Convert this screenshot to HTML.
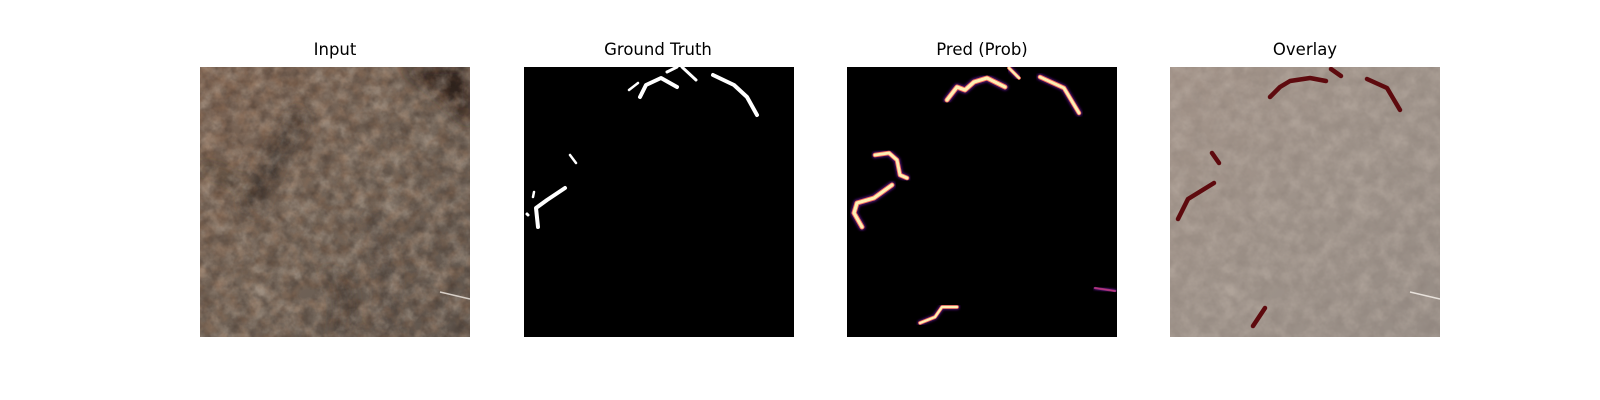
<!DOCTYPE html>
<html><head><meta charset="utf-8">
<style>
html,body{margin:0;padding:0;background:#fff;width:1600px;height:400px;overflow:hidden}
.t{position:absolute;top:40px;width:270px;text-align:center;font-family:"DejaVu Sans","Liberation Sans",sans-serif;font-size:16.5px;color:#000}
svg.p{position:absolute;top:67px;width:270px;height:270px}
</style></head><body>
<div class="t" style="left:200px">Input</div>
<div class="t" style="left:523px">Ground Truth</div>
<div class="t" style="left:847px">Pred (Prob)</div>
<div class="t" style="left:1170px">Overlay</div>

<svg width="0" height="0" style="position:absolute">
<defs>
<filter id="rock" x="0" y="0" width="100%" height="100%">
<feTurbulence type="fractalNoise" baseFrequency="0.06" numOctaves="4" seed="7" result="n"/>
<feColorMatrix in="n" type="matrix" values="0 0 0 0 0  0 0 0 0 0  0 0 0 0 0  1.8 0 0 0 -0.65" result="a"/>
<feComposite in="SourceGraphic" in2="a" operator="in"/>
</filter>
<filter id="rock2" x="0" y="0" width="100%" height="100%">
<feTurbulence type="fractalNoise" baseFrequency="0.09" numOctaves="3" seed="21" result="n"/>
<feColorMatrix in="n" type="matrix" values="0 0 0 0 0  0 0 0 0 0  0 0 0 0 0  1.8 0 0 0 -0.7" result="a"/>
<feComposite in="SourceGraphic" in2="a" operator="in"/>
</filter>
<filter id="glow"><feGaussianBlur stdDeviation="1.4"/></filter>
<filter id="soft"><feGaussianBlur stdDeviation="6"/></filter>
<linearGradient id="rg" x1="0" y1="0" x2="1" y2="1">
<stop offset="0" stop-color="#7a6252"/><stop offset="0.5" stop-color="#726458"/><stop offset="1" stop-color="#5e544c"/>
</linearGradient>
</defs></svg>

<svg class="p" style="left:200px" viewBox="0 0 270 270">
<rect width="270" height="270" fill="url(#rg)"/>
<g filter="url(#soft)">
<path d="M200 0 L270 0 L270 60 Q240 30 200 0Z" fill="#2e221c"/>
<path d="M95 40 Q60 90 40 140 L60 150 Q80 100 110 55Z" fill="#3a302a" opacity="0.8"/>
<path d="M0 100 Q40 110 50 130" stroke="#3a302a" stroke-width="10" fill="none" opacity="0.6"/>
<path d="M130 270 Q140 230 120 200 L150 210 Q160 240 150 270Z" fill="#3a342e" opacity="0.6"/>
<path d="M170 150 Q200 210 180 260" stroke="#4a423c" stroke-width="18" fill="none" opacity="0.5"/>
</g>
<rect width="270" height="270" fill="#c0b0a0" filter="url(#rock)" opacity="0.6"/>
<rect width="270" height="270" fill="#3a2c24" filter="url(#rock2)" opacity="0.5"/>
<rect width="270" height="270" fill="#b07850" filter="url(#rock2)" opacity="0.25" transform="translate(270 0) scale(-1 1)"/>
<line x1="240" y1="225" x2="270" y2="232" stroke="#d8d0c8" stroke-width="1.5"/>
</svg>

<svg class="p" id="gt" style="left:523.5px" viewBox="0 0 270 270">
<rect width="270" height="270" fill="#000"/>
</svg>

<svg class="p" id="pred" style="left:847px" viewBox="0 0 270 270">
<rect width="270" height="270" fill="#000"/>
</svg>

<svg class="p" id="ov" style="left:1170.4px" viewBox="0 0 270 270">
<rect width="270" height="270" fill="url(#rg)"/>
<rect width="270" height="270" fill="#c0b0a0" filter="url(#rock)" opacity="0.6"/>
<rect width="270" height="270" fill="#3a2c24" filter="url(#rock2)" opacity="0.4"/>
<rect width="270" height="270" fill="#bcb3ab" opacity="0.6"/>
<line x1="240" y1="225" x2="270" y2="232" stroke="#e8e2dc" stroke-width="1.5"/>
</svg>

<script>
const gtCracks=[
 [[105,23],[114,16]],
 [[116,30],[122,18],[137,11],[153,20]],
 [[143,5],[153,0]],
 [[158,0],[172,13]],
 [[189,8],[210,18],[223,30],[233,48]],
 [[46,88],[52,96]],
 [[41,121],[23,133],[12,141],[14,160]],
 [[10,125],[9,130]],
 [[3,147],[4,148]]
];
const gtWidth=[2.5,4,3,3,4,2.5,4,2.5,3];
const predCracks=[
 [[100,33],[110,20],[118,23],[127,15],[140,11],[158,20]],
 [[162,1],[172,11]],
 [[193,10],[217,21],[232,46]],
 [[28,88],[42,86],[50,93],[53,108],[60,111]],
 [[45,118],[27,131],[10,136],[7,146],[15,160]],
 [[73,256],[88,250],[95,240],[110,240]],
 [[248,221],[268,224]]
];
const predStrength=[1,0.7,0.9,0.9,1,0.7,0.4];
const ovCracks=[
 [[100,30],[110,20],[120,14],[140,11],[156,14]],
 [[161,2],[171,9]],
 [[197,12],[217,21],[230,43]],
 [[42,86],[49,96]],
 [[44,116],[18,132],[8,152]],
 [[83,259],[95,241]]
];
const NS='http://www.w3.org/2000/svg';
function pts(c){return c.map(p=>p[0]+','+p[1]).join(' ');}
function line(svg,c,color,w,extra){
 const l=document.createElementNS(NS,'polyline');
 l.setAttribute('points',pts(c));
 l.setAttribute('fill','none');
 l.setAttribute('stroke',color);
 l.setAttribute('stroke-width',w);
 l.setAttribute('stroke-linecap','round');
 l.setAttribute('stroke-linejoin','round');
 if(extra)l.setAttribute('filter',extra);
 svg.appendChild(l);return l;
}
const gt=document.getElementById('gt');
gtCracks.forEach((c,i)=>{
 const l=line(gt,c,'#fff',gtWidth[i]);
 
 
});
const pr=document.getElementById('pred');
predCracks.forEach((c,i)=>{
 const s=predStrength[i];
 line(pr,c,'#51127c',6*s+1,'url(#glow)');
 line(pr,c,s>0.6?'#f7705c':'#8c2981',4.5*s+0.5);
 const l=line(pr,c,s>0.6?'#fcf0b4':'#b73779',3.2*s);
 
 
});
const ov=document.getElementById('ov');
ovCracks.forEach(c=>{
 const l=line(ov,c,'#5e0a0e',4.5);
 
 
});
</script>
</body></html>
